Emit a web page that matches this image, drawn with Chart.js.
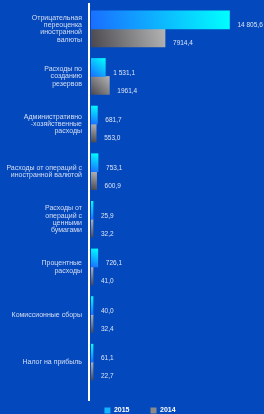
<!DOCTYPE html>
<html>
<head>
<meta charset="utf-8">
<script src="https://cdn.jsdelivr.net/npm/chart.js@4"></script>
<style>
    html, body { margin: 0; padding: 0; background: #0349bd; overflow: hidden; }
    #wrap { position: relative; width: 264px; height: 424px; }
</style>
</head>
<body>
<div id="wrap"><canvas id="myChart"></canvas></div>
<script>
const categories = [
    ['Отрицательная', 'переоценка', 'иностранной', 'валюты'],
    ['Расходы по', 'созданию', 'резервов'],
    ['Административно', '-хозяйственные', 'расходы'],
    ['Расходы от операций с', 'иностранной валютой'],
    ['Расходы от', 'операций с', 'ценными', 'бумагами'],
    ['Процентные', 'расходы'],
    ['Комиссионные сборы'],
    ['Налог на прибыль']
];
const values2015 = [14805.6, 1531.1, 681.7, 753.1, 25.9, 726.1, 40.0, 61.1];
const values2014 = [7914.4, 1961.4, 553.0, 600.9, 32.2, 41.0, 32.4, 22.7];
const labels2015 = ['14 805,6', '1 531,1', '681,7', '753,1', '25,9', '726,1', '40,0', '61,1'];
const labels2014 = ['7914,4', '1961,4', '553,0', '600,9', '32,2', '41,0', '32,4', '22,7'];
const seriesNames = ['2015', '2014'];

const gradientStops = [
    ['#1a6dff', '#00ffff'],
    ['#4a484e', '#b4b4b4']
];
const valueLabels = [labels2015, labels2014];

// diagonal gradient per bar: dark bottom-left -> light top-right
const barGradients = {
    id: 'barGradients',
    afterLayout(chart) {
        // nudge the legend a bit to the right, as in the original
        chart.legend.left += 16;
    },
    afterDatasetsUpdate(chart) {
        const ctx = chart.ctx;
        chart.data.datasets.forEach((ds, di) => {
            const meta = chart.getDatasetMeta(di);
            meta.data.forEach(el => {
                const left = Math.min(el.x, el.base);
                const right = Math.max(el.x, el.base);
                const top = el.y - el.height / 2;
                const bottom = el.y + el.height / 2;
                const g = ctx.createLinearGradient(left, bottom, right, top);
                g.addColorStop(0, gradientStops[di][0]);
                g.addColorStop(1, gradientStops[di][1]);
                el.options = Object.assign({}, el.options, { backgroundColor: g });
            });
        });
    }
};

const valueText = {
    id: 'valueText',
    afterDatasetsDraw(chart) {
        const ctx = chart.ctx;
        ctx.save();
        ctx.font = '6.5px "Liberation Sans"';
        ctx.fillStyle = '#dde4f4';
        ctx.textAlign = 'left';
        ctx.textBaseline = 'middle';
        chart.data.datasets.forEach((ds, di) => {
            chart.getDatasetMeta(di).data.forEach((el, i) => {
                const right = Math.max(el.x, el.base);
                ctx.fillText(valueLabels[di][i], right + 8, el.y + 5.5);
            });
        });
        ctx.restore();
    }
};

const axisLine = {
    id: 'axisLine',
    afterDraw(chart) {
        const { ctx, chartArea } = chart;
        ctx.save();
        ctx.strokeStyle = '#ffffff';
        ctx.lineWidth = 2;
        ctx.beginPath();
        ctx.moveTo(chartArea.left - 2, chartArea.top - 2);
        ctx.lineTo(chartArea.left - 2, chartArea.bottom + 15);
        ctx.stroke();
        ctx.restore();
    }
};

Chart.defaults.font.family = '"Liberation Sans", Arial, sans-serif';

const ctx = document.getElementById('myChart').getContext('2d');
const chart = new Chart(ctx, {
    type: 'bar',
    data: {
        labels: categories,
        datasets: [{
            label: seriesNames[0],
            data: values2015,
            backgroundColor: '#12b4ff'
        }, {
            label: seriesNames[1],
            data: values2014,
            backgroundColor: '#8a8a8a'
        }]
    },
    options: {
        indexAxis: 'y',
        responsive: true,
        maintainAspectRatio: false,
        animation: false,
        layout: { padding: { top: 5, left: 0, right: 0, bottom: 0 } },
        datasets: {
            bar: {
                barThickness: 18,
                categoryPercentage: 0.93,
                minBarLength: 2,
                borderWidth: 0
            }
        },
        scales: {
            x: { display: false, min: 0, max: 18500 },
            y: {
                grid: { display: false, drawTicks: false },
                border: { display: false },
                afterFit(scale) {
                    scale.width = 91;
                    scale.paddingTop = 0;
                    scale.paddingBottom = 0;
                },
                ticks: {
                    padding: 9,
                    color: '#d6def2',
                    font: { size: 7, lineHeight: 1.05 }
                }
            }
        },
        plugins: {
            tooltip: { enabled: false },
            legend: {
                position: 'bottom',
                labels: {
                    color: '#ffffff',
                    boxWidth: 6,
                    boxHeight: 6,
                    padding: 21,
                    font: { size: 7, weight: 'bold' }
                }
            }
        }
    },
    plugins: [barGradients, valueText, axisLine]
});
</script>
</body>
</html>
